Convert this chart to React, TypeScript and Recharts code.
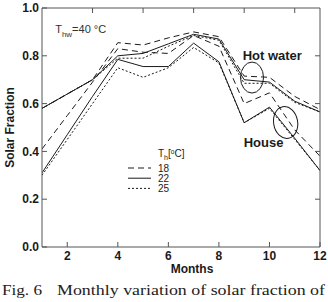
import React from 'react';
import { LineChart, Line, XAxis, YAxis, Legend, ReferenceDot, Label } from 'recharts';

// Months of the year
const months = [1, 2, 3, 4, 5, 6, 7, 8, 9, 10, 11, 12];

// Hot water solar fraction (T_hw = 40 °C) for three house set-point temperatures
const hotWater18 = [0.58, 0.64, 0.70, 0.855, 0.845, 0.875, 0.90, 0.88, 0.715, 0.71, 0.63, 0.575];
const hotWater22 = [0.58, 0.64, 0.70, 0.80, 0.81, 0.85, 0.89, 0.87, 0.70, 0.69, 0.61, 0.565];
const hotWater25 = [0.58, 0.64, 0.70, 0.79, 0.79, 0.84, 0.885, 0.865, 0.685, 0.685, 0.605, 0.565];

// House heating solar fraction
const house18 = [0.41, 0.55, 0.69, 0.83, 0.815, 0.81, 0.885, 0.84, 0.60, 0.645, 0.49, 0.38];
const house22 = [0.31, 0.47, 0.63, 0.785, 0.755, 0.755, 0.853, 0.775, 0.52, 0.585, 0.455, 0.32];
const house25 = [0.30, 0.45, 0.60, 0.75, 0.71, 0.75, 0.835, 0.77, 0.52, 0.58, 0.45, 0.32];

// Set-point temperatures shown in the legend
const tempLabels = ['18', '22', '25'];

// Axis ticks
const xTicks = [2, 4, 6, 8, 10, 12];
const xTopTicks = [2, 4, 6, 8, 10];
const yTicks = [0, 0.2, 0.4, 0.6, 0.8, 1.0];
const yRightTicks = [0.2, 0.4, 0.6, 0.8];

const data = months.map((m, i) => ({
  month: m,
  hw18: hotWater18[i],
  hw22: hotWater22[i],
  hw25: hotWater25[i],
  h18: house18[i],
  h22: house22[i],
  h25: house25[i],
}));

const INK = '#1a1a1a';
const FRAME = '#555';
const SANS = '"Liberation Sans", Arial, sans-serif';
const SERIF = '"Liberation Serif", "DejaVu Serif", serif';
const DASH_18 = '6 4';
const DASH_25 = '2 2';

const noLabel = () => <g />;

const tickFont = { fill: INK, fontSize: 12, fontWeight: 'bold' as const, fontFamily: SANS };

const HeaderText = (props: any) => (
  <text x={props.cx} y={props.cy} fontFamily={SANS} fontSize={11} fill="#333">
    T<tspan fontSize={8} dy={4}>hw</tspan>
    <tspan dy={-4}>=40 °C</tspan>
  </text>
);

const makeTag = (text: string) => (props: any) => (
  <text x={props.cx} y={props.cy} fontFamily={SANS} fontSize={13} fontWeight="bold" fill={INK}>
    {text}
  </text>
);

const makeRing = (rx: number, ry: number, rot: number) => (props: any) => (
  <ellipse
    cx={props.cx}
    cy={props.cy}
    rx={rx}
    ry={ry}
    fill="none"
    stroke={INK}
    strokeWidth={1}
    transform={`rotate(${rot} ${props.cx} ${props.cy})`}
  />
);

const LegendBox = (props: any) => {
  const items = (props.payload || []).slice(0, 3);
  return (
    <svg width={72} height={56} style={{ display: 'block', overflow: 'visible' }}>
      <text x={36} y={13} fontFamily={SANS} fontSize={10} fill="#222">
        T<tspan fontSize={7} dy={3}>h</tspan>
        <tspan dy={-3}>[</tspan>
        <tspan fontSize={6.5} dy={-3.5}>o</tspan>
        <tspan dy={3.5}>C]</tspan>
      </text>
      {items.map((entry: any, i: number) => {
        const y = 24 + i * 10.2;
        const dash = entry?.payload?.strokeDasharray;
        return (
          <g key={i}>
            <line x1={6} x2={29} y1={y} y2={y} stroke={INK} strokeWidth={1} strokeDasharray={dash} />
            <text x={36} y={y + 3.5} fontFamily={SANS} fontSize={10} fill="#222">
              {tempLabels[i] ?? entry.value}
            </text>
          </g>
        );
      })}
    </svg>
  );
};

export default function App() {
  return (
    <div style={{ position: 'absolute', left: 0, top: 0, width: 328, height: 302, background: '#fff' }}>
      <LineChart width={328} height={302} data={data} margin={{ top: 8, right: 8, bottom: 25, left: 0 }}>
        <XAxis
          dataKey="month"
          type="number"
          domain={[1, 12]}
          ticks={xTicks}
          height={30}
          tickSize={-5}
          tickMargin={9}
          axisLine={{ stroke: FRAME }}
          tickLine={{ stroke: FRAME }}
          tick={tickFont}
          allowDataOverflow
        >
          <Label
            value="Months"
            position="insideBottom"
            offset={4}
            dx={11}
            style={{ fill: INK, fontSize: 12, fontWeight: 'bold', fontFamily: SANS }}
          />
        </XAxis>
        <XAxis
          xAxisId="top"
          orientation="top"
          type="number"
          domain={[1, 12]}
          ticks={xTopTicks}
          mirror
          tickSize={5}
          tick={noLabel}
          axisLine={{ stroke: FRAME }}
          tickLine={{ stroke: FRAME }}
          allowDataOverflow
        />
        <YAxis
          type="number"
          domain={[0, 1]}
          ticks={yTicks}
          width={42}
          tickSize={-5}
          tickMargin={8}
          tickFormatter={(v: number) => v.toFixed(1)}
          axisLine={{ stroke: FRAME }}
          tickLine={{ stroke: FRAME }}
          tick={tickFont}
          allowDataOverflow
        >
          <Label
            value="Solar Fraction"
            angle={-90}
            position="center"
            dx={-11}
            style={{ fill: INK, fontSize: 12, fontWeight: 'bold', fontFamily: SANS, textAnchor: 'middle' }}
          />
        </YAxis>
        <YAxis
          yAxisId="right"
          orientation="right"
          type="number"
          domain={[0, 1]}
          ticks={yRightTicks}
          mirror
          tickSize={5}
          tick={noLabel}
          axisLine={{ stroke: FRAME }}
          tickLine={{ stroke: FRAME }}
          allowDataOverflow
        />

        <Line dataKey="hw18" name="18" type="linear" stroke={INK} strokeWidth={1} strokeDasharray={DASH_18} dot={false} isAnimationActive={false} />
        <Line dataKey="hw22" name="22" type="linear" stroke={INK} strokeWidth={1} dot={false} isAnimationActive={false} />
        <Line dataKey="hw25" name="25" type="linear" stroke={INK} strokeWidth={1} strokeDasharray={DASH_25} dot={false} isAnimationActive={false} />
        <Line dataKey="h18" name="house 18" legendType="none" type="linear" stroke={INK} strokeWidth={1} strokeDasharray={DASH_18} dot={false} isAnimationActive={false} />
        <Line dataKey="h22" name="house 22" legendType="none" type="linear" stroke={INK} strokeWidth={1} dot={false} isAnimationActive={false} />
        <Line dataKey="h25" name="house 25" legendType="none" type="linear" stroke={INK} strokeWidth={1} strokeDasharray={DASH_25} dot={false} isAnimationActive={false} />

        <ReferenceDot x={1.52} y={0.895} shape={HeaderText} ifOverflow="visible" />
        <ReferenceDot x={8.94} y={0.782} shape={makeTag('Hot water')} ifOverflow="visible" />
        <ReferenceDot x={8.98} y={0.418} shape={makeTag('House')} ifOverflow="visible" />
        <ReferenceDot x={9.31} y={0.709} shape={makeRing(11.5, 15.5, 0)} ifOverflow="visible" />
        <ReferenceDot x={10.64} y={0.521} shape={makeRing(12, 16, -10)} ifOverflow="visible" />

        <Legend
          layout="vertical"
          align="center"
          verticalAlign="middle"
          content={LegendBox}
          wrapperStyle={{ position: 'absolute', left: 122, top: 144, width: 72, height: 56 }}
        />
      </LineChart>
      <svg
        width={328}
        height={302}
        style={{ position: 'absolute', left: 0, top: 0, pointerEvents: 'none' }}
      >
        <text y={295} fontFamily={SERIF} fontSize={15} fill="#222">
          <tspan x={2} textLength={40} lengthAdjust="spacingAndGlyphs">Fig. 6</tspan>
          <tspan x={57} textLength={268} lengthAdjust="spacingAndGlyphs">Monthly variation of solar fraction of</tspan>
        </text>
      </svg>
    </div>
  );
}
